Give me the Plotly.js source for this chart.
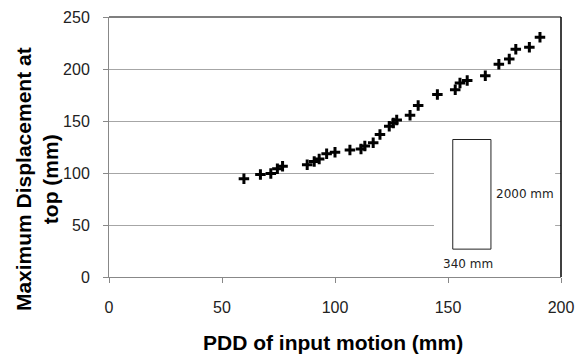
<!DOCTYPE html>
<html>
<head>
<meta charset="utf-8">
<script src="https://cdn.plot.ly/plotly-3.0.1.min.js"></script>
<style>html,body{margin:0;padding:0;background:#fff;}#chart{width:582px;height:356px;}</style>
</head>
<body>
<div id="chart"></div>
<script>
const pddInput = [59.7, 67.0, 71.6, 74.5, 76.8, 87.7, 90.8, 93.0, 96.3, 100.0, 106.6, 111.5, 113.2, 116.9, 119.9, 124.0, 125.8, 127.3, 133.2, 136.8, 145.3, 153.2, 155.3, 158.5, 166.5, 172.5, 177.1, 180.0, 186.0, 190.7];
const maxDisp  = [94.5, 98.5, 99.5, 104.0, 106.5, 108.0, 111.0, 113.5, 118.5, 120.0, 122.0, 123.0, 126.0, 129.0, 137.0, 145.0, 148.0, 151.0, 155.5, 165.0, 175.5, 180.0, 186.5, 189.0, 193.5, 204.5, 209.5, 219.0, 221.0, 230.5];
const xTicks = [0, 50, 100, 150, 200];
const yTicks = [0, 50, 100, 150, 200, 250];

const tickFont = {family: 'Liberation Sans, Arial, sans-serif', size: 16, color: '#222'};
const titleFont = {family: 'Liberation Sans, Arial, sans-serif', size: 21, color: '#000'};

const trace = {
  x: pddInput, y: maxDisp, type: 'scatter', mode: 'markers',
  marker: {symbol: 'cross-thin-open', size: 7.5, color: '#000', line: {color: '#000', width: 3}},
  hoverinfo: 'none', showlegend: false
};

const layout = {
  width: 582, height: 356,
  margin: {l: 109, r: 21, t: 17, b: 79},
  paper_bgcolor: '#fff', plot_bgcolor: '#fff',
  xaxis: {
    range: [0, 200], tickvals: xTicks, ticktext: xTicks.map(String),
    showgrid: false, zeroline: false, showline: true, linecolor: '#888', linewidth: 1,
    ticks: 'outside', ticklen: 5, tickcolor: '#888', tickfont: tickFont, ticklabelstandoff: 11
  },
  yaxis: {
    range: [0, 250], tickvals: yTicks, ticktext: yTicks.map(String),
    showgrid: true, gridcolor: '#a6a6a6', gridwidth: 1, zeroline: false,
    showline: true, linecolor: '#888', linewidth: 1,
    ticks: 'outside', ticklen: 5, tickcolor: '#888', tickfont: tickFont, ticklabelstandoff: 10
  },
  shapes: [
    {type: 'line', xref: 'paper', yref: 'paper', x0: 0, x1: 1, y0: 1, y1: 1, line: {color: '#555', width: 1.5}},
    {type: 'rect', xref: 'x', yref: 'y', x0: 143.8, x1: 197.4, y0: 1.5, y1: 143, fillcolor: '#fff', line: {width: 0}, layer: 'above'},
    {type: 'line', xref: 'paper', yref: 'paper', x0: 1, x1: 1, y0: 0, y1: 1, line: {color: '#000', width: 1.5}},
    {type: 'rect', xref: 'x', yref: 'y', x0: 152.1, x1: 169.0, y0: 26.8, y1: 132.2, fillcolor: 'rgba(0,0,0,0)', line: {color: '#222', width: 1}, layer: 'above'}
  ],
  annotations: [
    {text: '<b>Maximum Displacement at<br>top (mm)</b>', xref: 'paper', yref: 'paper', x: -0.159, y: 0.377,
     xanchor: 'center', yanchor: 'middle', textangle: -90, showarrow: false, font: titleFont},
    {text: '<b>PDD of input motion (mm)</b>', xref: 'paper', yref: 'paper', x: 0.496, y: -0.25,
     xanchor: 'center', yanchor: 'middle', showarrow: false, font: titleFont},
    {text: '2000 mm', xref: 'x', yref: 'y', x: 170.3, y: 79.5, xanchor: 'left', yanchor: 'middle', showarrow: false,
     font: {family: 'DejaVu Sans, sans-serif', size: 12, color: '#222'}},
    {text: '340 mm', xref: 'x', yref: 'y', x: 147.0, y: 12.5, xanchor: 'left', yanchor: 'middle', showarrow: false,
     font: {family: 'DejaVu Sans, sans-serif', size: 12, color: '#222'}}
  ]
};

Plotly.newPlot('chart', [trace], layout, {staticPlot: true, displayModeBar: false});
</script>
</body>
</html>
